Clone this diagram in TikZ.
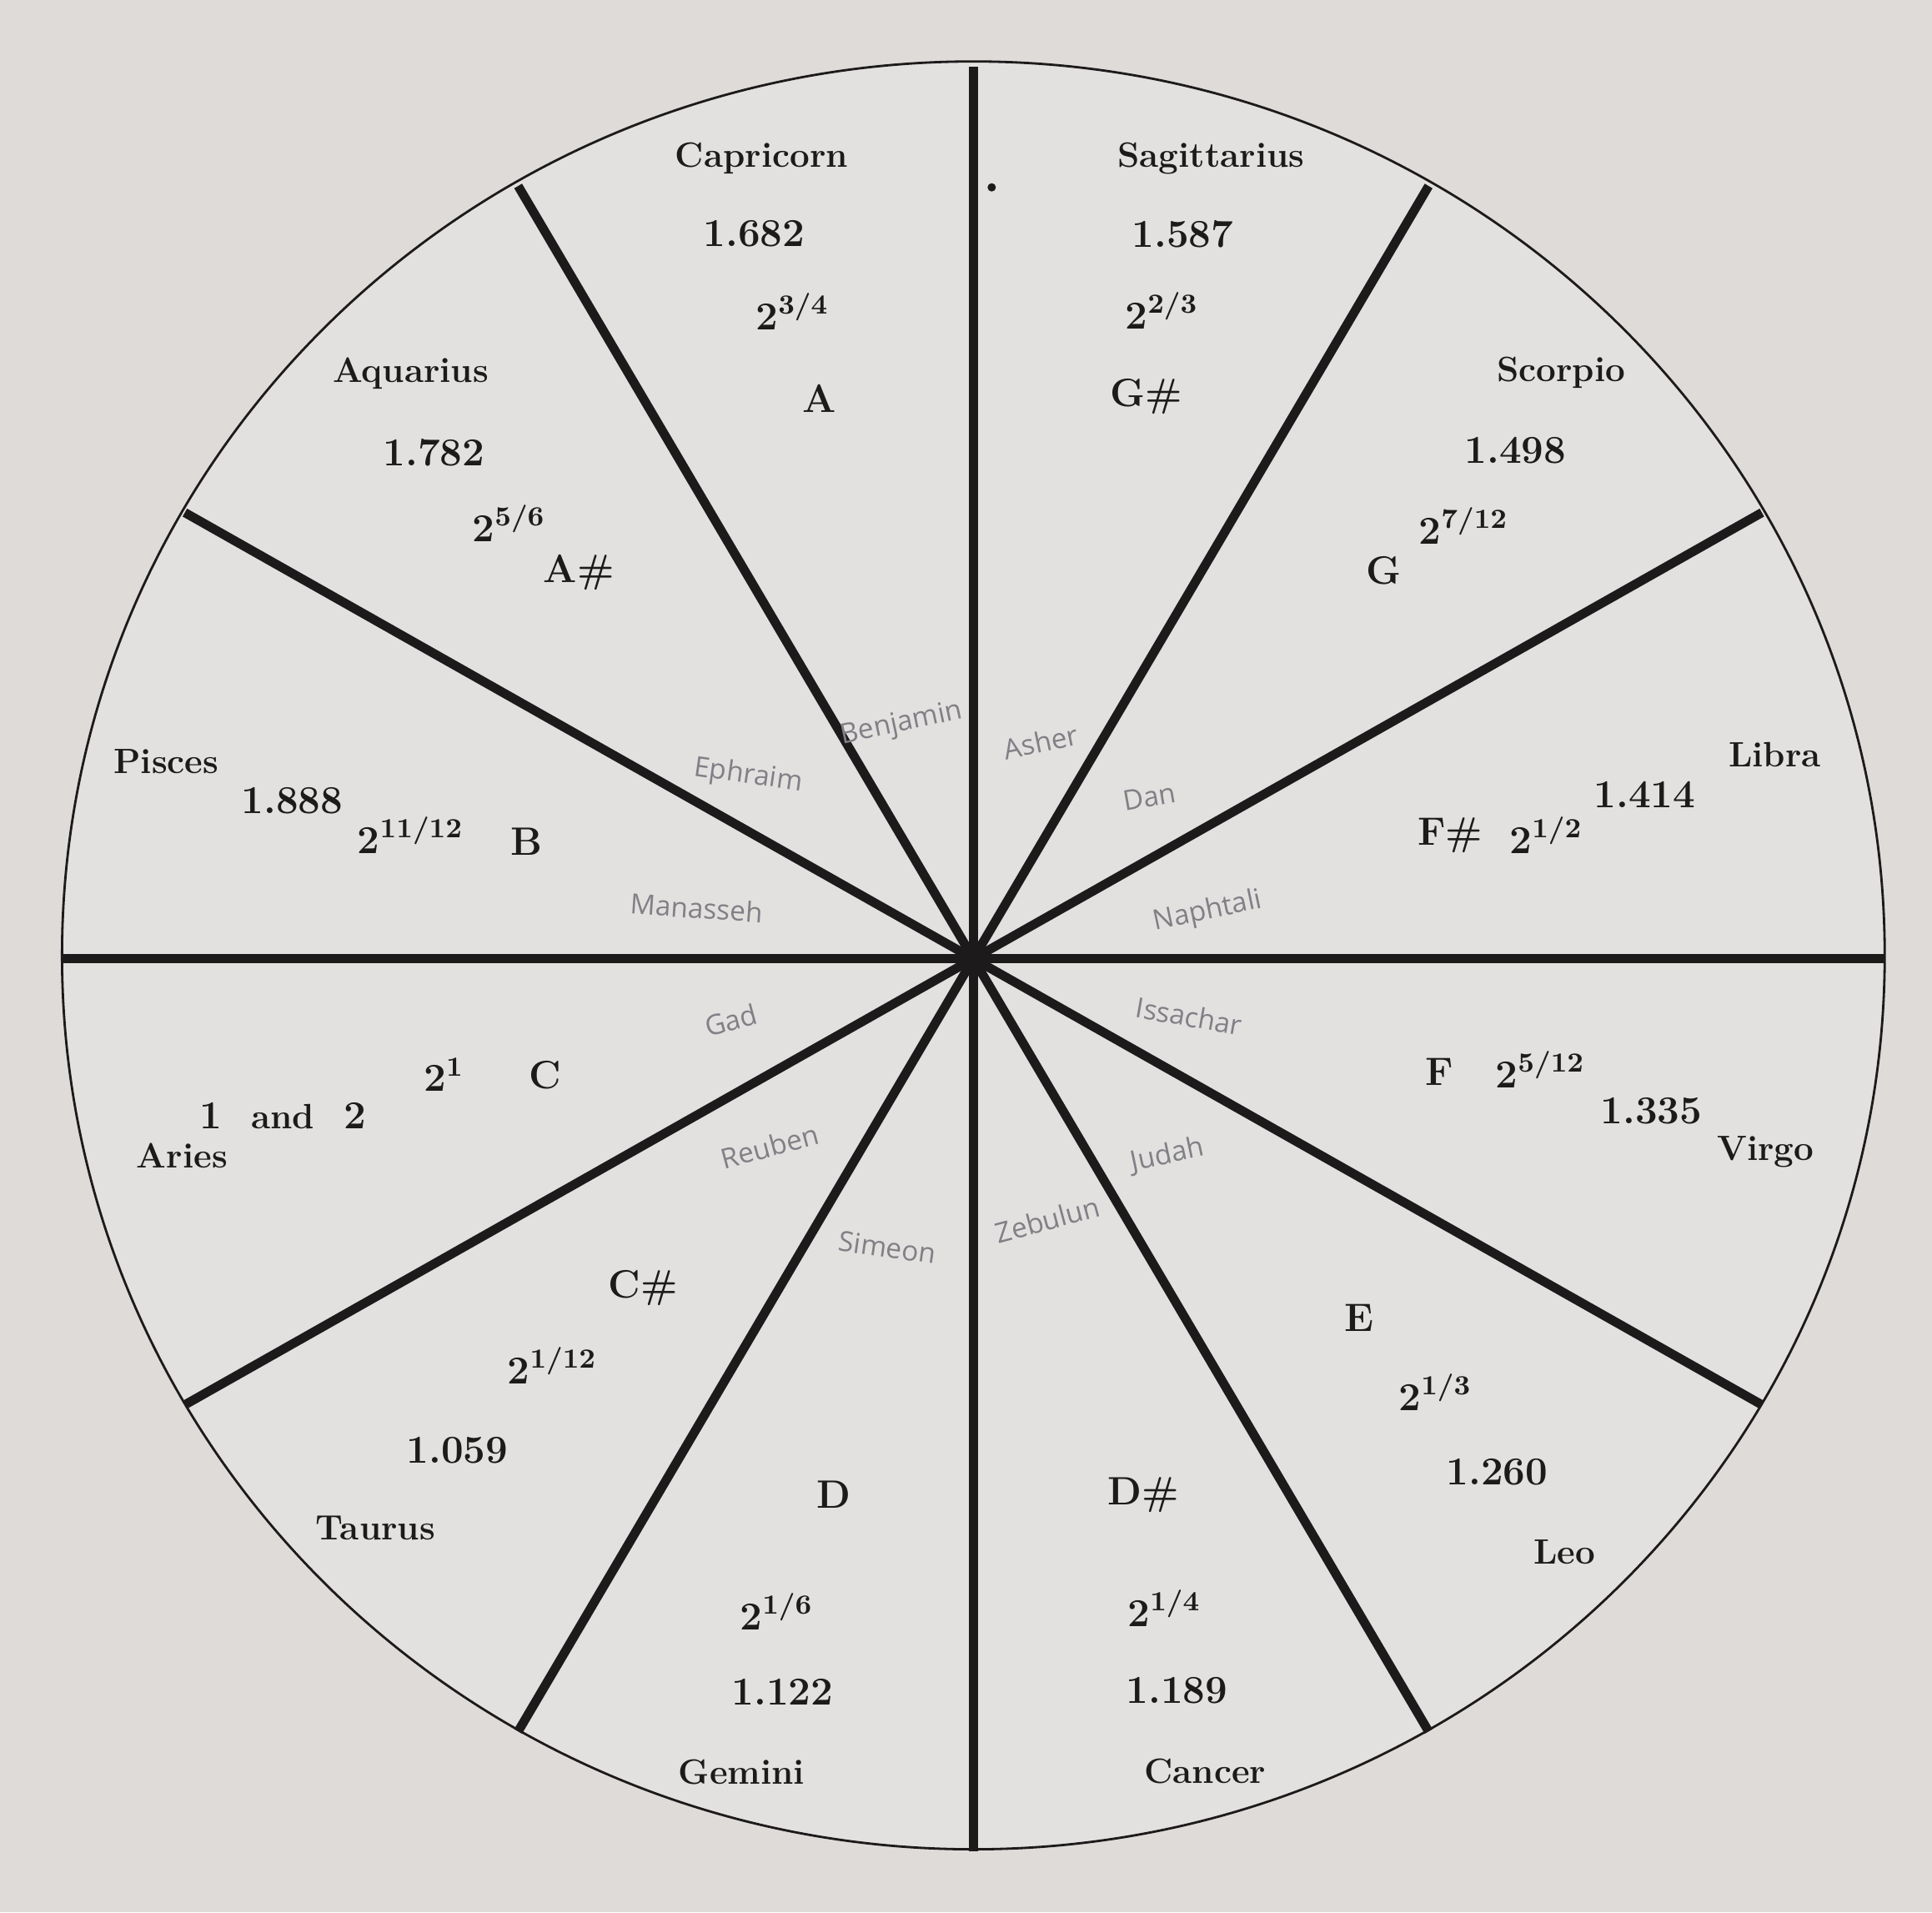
\documentclass[tikz,border=0pt]{standalone}
\usepackage{fontspec}
\newfontfamily\handfont{Open Sans}
\definecolor{paper}{RGB}{222,219,217}
\definecolor{sheet}{RGB}{227,225,223}
\definecolor{ink}{RGB}{28,26,26}
\definecolor{pencil}{RGB}{128,128,134}
\tikzset{
  sign/.style={font=\fontsize{12}{14}\selectfont\bfseries, text=ink, inner sep=1pt},
  val/.style={font=\fontsize{13.5}{15}\selectfont\bfseries, text=ink, inner sep=1pt},
  tribe/.style={font=\handfont\fontsize{9.5}{11}\selectfont, text=pencil, inner sep=1pt},
  spoke/.style={line width=3.1pt, draw=ink}
}
\begin{document}
\begin{tikzpicture}
  % Papel
  \fill[paper] (-11.674,-11.437) rectangle (11.497,11.497);
  \useasboundingbox (-11.674,-11.437) rectangle (11.497,11.497);
  \filldraw[fill=sheet, draw=ink, line width=0.8pt] (0,0.04) ellipse [x radius=10.93, y radius=10.72];

  % Radios
  \foreach \a in {0,30,...,330}
    \draw[spoke] (0,0) -- (\a:10.92 and 10.70);
  \fill[ink] (0,0) circle (0.15);
  \fill[ink] (0.22,9.25) circle (0.05);

  % Capricorn / Sagittarius
  \node[sign] (capricorn) at (-2.54,9.60) {Capricorn};
  \node[val] (cap-val) at (-2.63,8.69) {1.682};
  \node[val] (cap-exp) at (-2.17,7.76) {2\textsuperscript{3/4}};
  \node[val] (cap-note) at (-1.85,6.72) {A};
  \node[sign] (sagittarius) at (2.85,9.60) {Sagittarius};
  \node[val] (sag-val) at (2.51,8.69) {1.587};
  \node[val] (sag-exp) at (2.26,7.77) {2\textsuperscript{2/3}};
  \node[val] (sag-note) at (2.07,6.74) {G\#};

  % Aquarius / Scorpio
  \node[sign] (aquarius) at (-6.75,7.02) {Aquarius};
  \node[val] (aqu-val) at (-6.47,6.07) {1.782};
  \node[val] (aqu-exp) at (-5.57,5.22) {2\textsuperscript{5/6}};
  \node[val] (aqu-note) at (-4.73,4.63) {A\#};
  \node[sign] (scorpio) at (7.05,7.03) {Scorpio};
  \node[val] (sco-val) at (6.50,6.10) {1.498};
  \node[val] (sco-exp) at (5.88,5.19) {2\textsuperscript{7/12}};
  \node[val] (sco-note) at (4.92,4.65) {G};

  % Pisces / Libra
  \node[sign] (pisces) at (-9.68,2.36) {Pisces};
  \node[val] (pis-val) at (-8.17,1.89) {1.888};
  \node[val] (pis-exp) at (-6.75,1.48) {2\textsuperscript{11/12}};
  \node[val] (pis-note) at (-5.36,1.40) {B};
  \node[sign] (libra) at (9.61,2.45) {Libra};
  \node[val] (lib-val) at (8.05,1.97) {1.414};
  \node[val] (lib-exp) at (6.87,1.48) {2\textsuperscript{1/2}};
  \node[val] (lib-note) at (5.72,1.48) {F\#};

  % Aries / Virgo
  \node[sign] (aries) at (-9.49,-2.36) {Aries};
  \node[val] (ari-val) at (-8.28,-1.88) {1 \ {\fontsize{12}{14}\selectfont and} \ 2};
  \node[val] (ari-exp) at (-6.35,-1.39) {2\textsuperscript{1}};
  \node[val] (ari-note) at (-5.14,-1.40) {C};
  \node[sign] (virgo) at (9.50,-2.32) {Virgo};
  \node[val] (vir-val) at (8.13,-1.83) {1.335};
  \node[val] (vir-exp) at (6.80,-1.33) {2\textsuperscript{5/12}};
  \node[val] (vir-note) at (5.59,-1.36) {F};

  % Taurus / Leo
  \node[sign] (taurus) at (-7.17,-6.83) {Taurus};
  \node[val] (tau-val) at (-6.19,-5.90) {1.059};
  \node[val] (tau-exp) at (-5.05,-4.88) {2\textsuperscript{1/12}};
  \node[val] (tau-note) at (-3.96,-3.95) {C\#};
  \node[sign] (leo) at (7.09,-7.12) {Leo};
  \node[val] (leo-val) at (6.28,-6.16) {1.260};
  \node[val] (leo-exp) at (5.54,-5.20) {2\textsuperscript{1/3}};
  \node[val] (leo-note) at (4.63,-4.31) {E};

  % Gemini / Cancer
  \node[sign] (gemini) at (-2.78,-9.75) {Gemini};
  \node[val] (gem-val) at (-2.29,-8.79) {1.122};
  \node[val] (gem-exp) at (-2.36,-7.83) {2\textsuperscript{1/6}};
  \node[val] (gem-note) at (-1.67,-6.43) {D};
  \node[sign] (cancer) at (2.78,-9.74) {Cancer};
  \node[val] (can-val) at (2.44,-8.78) {1.189};
  \node[val] (can-exp) at (2.29,-7.79) {2\textsuperscript{1/4}};
  \node[val] (can-note) at (2.04,-6.43) {D\#};

  % Tribus (a lapiz)
  \node[tribe, rotate=12] (benjamin) at (-0.86,2.81) {Benjamin};
  \node[tribe, rotate=12] (asher) at (0.81,2.60) {Asher};
  \node[tribe, rotate=-8] (ephraim) at (-2.70,2.19) {Ephraim};
  \node[tribe, rotate=10] (dan) at (2.11,1.94) {Dan};
  \node[tribe, rotate=-4] (manasseh) at (-3.32,0.61) {Manasseh};
  \node[tribe, rotate=12] (naphtali) at (2.81,0.56) {Naphtali};
  \node[tribe, rotate=15] (gad) at (-2.91,-0.74) {Gad};
  \node[tribe, rotate=-10] (issachar) at (2.59,-0.69) {Issachar};
  \node[tribe, rotate=15] (reuben) at (-2.44,-2.25) {Reuben};
  \node[tribe, rotate=12] (judah) at (2.33,-2.36) {Judah};
  \node[tribe, rotate=-8] (simeon) at (-1.03,-3.46) {Simeon};
  \node[tribe, rotate=15] (zebulun) at (0.89,-3.13) {Zebulun};
\end{tikzpicture}
\end{document}
